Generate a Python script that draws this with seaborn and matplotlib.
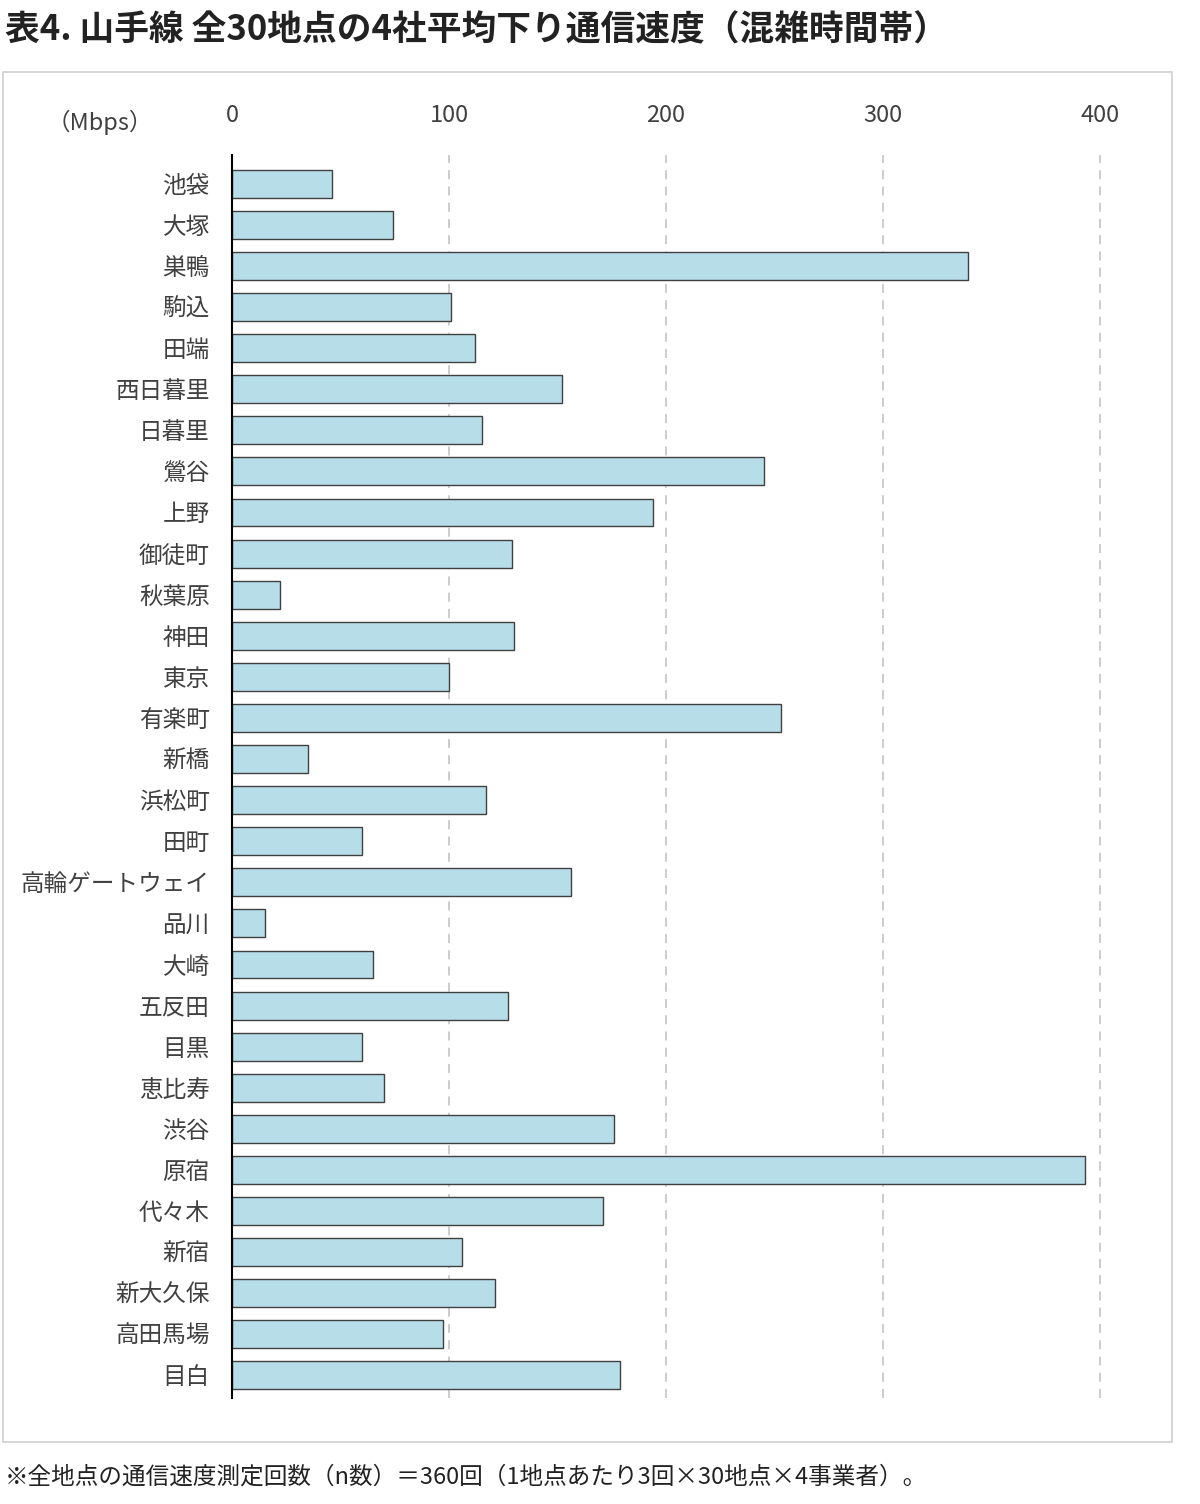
import matplotlib
matplotlib.use("Agg")
import matplotlib.pyplot as plt
import seaborn as sns
import pandas as pd
from matplotlib.patches import Rectangle

stations = ["池袋","大塚","巣鴨","駒込","田端","西日暮里","日暮里","鶯谷","上野","御徒町",
            "秋葉原","神田","東京","有楽町","新橋","浜松町","田町","高輪ゲートウェイ","品川","大崎",
            "五反田","目黒","恵比寿","渋谷","原宿","代々木","新宿","新大久保","高田馬場","目白"]
speeds = [46,74,339,101,112,152,115,245,194,129,
          22,130,100,253,35,117,60,156,15,65,
          127,60,70,176,393,171,106,121,97,179]
ticks = [0,100,200,300,400]

plt.rcParams["font.family"] = "Noto Sans CJK JP"
df = pd.DataFrame({"station": stations, "speed": speeds})

fig = plt.figure(figsize=(12, 15.04), dpi=100)
fig.patches.append(Rectangle((3/1200, 1-1442/1504), 1169/1200, (1442-72)/1504,
                             transform=fig.transFigure, fill=False, edgecolor="#d0d0d0", lw=1.2))
ax = fig.add_axes([232/1200, 1-1398/1504, 879/1200, (1398-155)/1504])
sns.barplot(data=df, x="speed", y="station", ax=ax, color="#b7dde8",
            edgecolor="#404040", linewidth=1.0, width=0.68, saturation=1)
ax.set_xlim(0, 405)
ax.set_ylim(len(stations)-0.45, -0.7)
ax.set_xticks(ticks)
ax.xaxis.tick_top()
ax.tick_params(axis="x", length=0, labelsize=17, colors="#404040", pad=20)
ax.tick_params(axis="y", length=0, labelsize=17, colors="#404040", pad=16)
for t in ticks[1:]:
    ax.axvline(t, color="#c8c8c8", ls=(0, (5, 4)), lw=1.3, zorder=0)
for s in ["top", "right", "bottom"]:
    ax.spines[s].set_visible(False)
ax.spines["left"].set_color("black")
ax.spines["left"].set_linewidth(1.5)
ax.set_xlabel(""); ax.set_ylabel("")
fig.text(100/1200, 1-122/1504, "（Mbps）", fontsize=17, color="#404040", ha="center", va="center")
fig.text(5/1200, 1-30/1504, "表4. 山手線 全30地点の4社平均下り通信速度（混雑時間帯）",
         fontsize=25, fontweight="bold", color="#222222", ha="left", va="center")
fig.text(5/1200, 1-1477/1504, "※全地点の通信速度測定回数（n数）＝360回（1地点あたり3回×30地点×4事業者）。",
         fontsize=17, color="#222222", ha="left", va="center")
fig.savefig("out.png", dpi=100)
